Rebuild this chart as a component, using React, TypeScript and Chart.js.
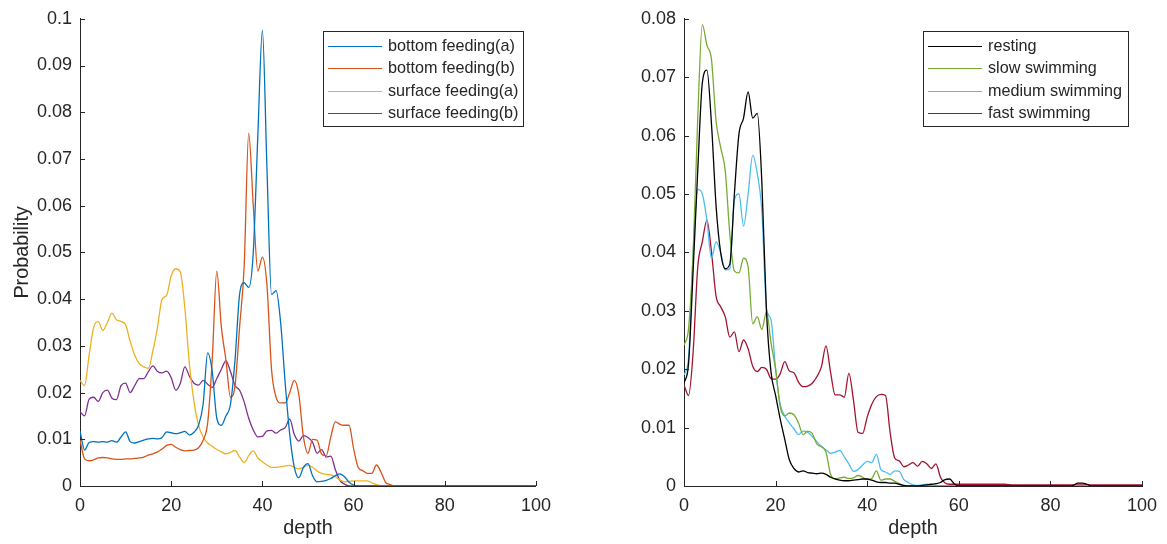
import React, { useEffect, useRef } from 'react';
import { Chart, registerables } from 'chart.js';

Chart.register(...registerables);

// ---------- DATA ----------
const depthLeft = [
  0, 1, 2, 3, 4, 5, 6, 7, 8, 9, 10, 11, 12, 13, 14, 15, 16, 17, 18, 19,
  20, 21, 22, 23, 24, 25, 26, 27, 28, 29, 30, 31, 32, 33, 34, 35, 36, 37, 38, 39,
  40, 41, 42, 43, 44, 45, 46, 47, 48, 49, 50, 51, 52, 53, 54, 55, 56, 57, 58, 59,
  60, 61, 62, 63, 64, 65, 66, 67, 68, 69, 70, 80, 90, 100,
];

const bottomFeedingA = [
  0.0118, 0.0077, 0.0093, 0.0095, 0.0094, 0.0095, 0.0094, 0.0097, 0.0094, 0.0105,
  0.0116, 0.0095, 0.0092, 0.0095, 0.0098, 0.0101, 0.0102, 0.0101, 0.0104, 0.0116,
  0.0114, 0.0112, 0.0114, 0.0117, 0.0109, 0.0115, 0.0130, 0.0175, 0.0285, 0.0245,
  0.0145, 0.0130, 0.0150, 0.0175, 0.0270, 0.0410, 0.0435, 0.0425, 0.0500, 0.0750,
  0.0975, 0.0680, 0.0410, 0.0418, 0.0350, 0.0220, 0.0110, 0.0040, 0.0018, 0.0040,
  0.0048, 0.0022, 0.0009, 0.0010, 0.0012, 0.0016, 0.0022, 0.0026, 0.0020, 0.0008,
  0.0002, 0, 0, 0, 0, 0, 0, 0, 0, 0, 0, 0, 0, 0,
];

const bottomFeedingB = [
  0.0098, 0.0058, 0.0054, 0.0056, 0.0060, 0.0061, 0.0060, 0.0058, 0.0057, 0.0057,
  0.0058, 0.0058, 0.0059, 0.0060, 0.0062, 0.0066, 0.0069, 0.0073, 0.0079, 0.0087,
  0.0089, 0.0083, 0.0078, 0.0075, 0.0076, 0.0077, 0.0082, 0.0098, 0.0135, 0.0270,
  0.0460, 0.0340, 0.0270, 0.0190, 0.0215, 0.0340, 0.0470, 0.0755, 0.0600, 0.0460,
  0.0490, 0.0430, 0.0250, 0.0190, 0.0178, 0.0178, 0.0200, 0.0226, 0.0195, 0.0105,
  0.0070, 0.0100, 0.0098, 0.0068, 0.0065, 0.0105, 0.0138, 0.0132, 0.0130, 0.0130,
  0.0080, 0.0040, 0.0033, 0.0027, 0.0027, 0.0045, 0.0030, 0.0008, 0.0003, 0, 0,
  0, 0, 0,
];

const surfaceFeedingA = [
  0.0226, 0.0215, 0.0280, 0.0340, 0.0352, 0.0333, 0.0350, 0.0370, 0.0356, 0.0352,
  0.0345, 0.0310, 0.0280, 0.0262, 0.0255, 0.0252, 0.0290, 0.0340, 0.0400, 0.0408,
  0.0450, 0.0465, 0.0458, 0.0380, 0.0260, 0.0180, 0.0130, 0.0105, 0.0092, 0.0085,
  0.0078, 0.0073, 0.0069, 0.0072, 0.0076, 0.0062, 0.0050, 0.0065, 0.0075, 0.0060,
  0.0052, 0.0045, 0.0040, 0.0040, 0.0041, 0.0043, 0.0044, 0.0040, 0.0037, 0.0040,
  0.0044, 0.0040, 0.0032, 0.0027, 0.0025, 0.0024, 0.0020, 0.0013, 0.0009, 0.0010,
  0.0011, 0.0011, 0.0011, 0.0011, 0.0007, 0.0003, 0.0001, 0, 0, 0, 0,
  0, 0, 0,
];

const surfaceFeedingB = [
  0.0159, 0.0150, 0.0186, 0.0190, 0.0181, 0.0200, 0.0205, 0.0188, 0.0185, 0.0215,
  0.0220, 0.0200, 0.0215, 0.0230, 0.0230, 0.0245, 0.0257, 0.0245, 0.0242, 0.0246,
  0.0232, 0.0205, 0.0220, 0.0255, 0.0235, 0.0220, 0.0216, 0.0226, 0.0218, 0.0211,
  0.0230, 0.0250, 0.0268, 0.0245, 0.0215, 0.0205, 0.0180, 0.0145, 0.0120, 0.0105,
  0.0106, 0.0118, 0.0119, 0.0113, 0.0120, 0.0125, 0.0143, 0.0110, 0.0096, 0.0108,
  0.0104, 0.0094, 0.0070, 0.0078, 0.0062, 0.0064, 0.0035, 0.0012, 0.0004, 0,
  0, 0, 0, 0, 0, 0, 0, 0, 0, 0, 0,
  0, 0, 0,
];

const depthRight = [
  0, 1, 2, 3, 4, 5, 6, 7, 8, 9, 10, 11, 12, 13, 14, 15, 16, 17, 18, 19,
  20, 21, 22, 23, 24, 25, 26, 27, 28, 29, 30, 31, 32, 33, 34, 35, 36, 37, 38, 39,
  40, 41, 42, 43, 44, 45, 46, 47, 48, 49, 50, 51, 52, 53, 54, 55, 56, 57, 58, 59,
  60, 61, 62, 63, 64, 65, 66, 67, 68, 69, 70,
  72, 75, 80, 84, 85, 86, 87, 88, 89, 90, 95, 100,
];

const resting = [
  0.0176, 0.0210, 0.0370, 0.0540, 0.0690, 0.0712, 0.0620, 0.0480, 0.0400, 0.0372,
  0.0380, 0.0500, 0.0603, 0.0630, 0.0675, 0.0630, 0.0638, 0.0520, 0.0300, 0.0195,
  0.0155, 0.0115, 0.0080, 0.0045, 0.0030, 0.0024, 0.0026, 0.0023, 0.0022, 0.0021,
  0.0022, 0.0020, 0.0015, 0.0012, 0.0010, 0.0009, 0.0009, 0.0010, 0.0011, 0.0012,
  0.0012, 0.0010, 0.0007, 0.0006, 0.0006, 0.0005, 0.0005, 0.0003, 0.0001, 0,
  0, 0, 0.0001, 0.0002, 0.0003, 0.0004, 0.0006, 0.0011, 0.0012, 0.0004,
  0, 0, 0, 0, 0, 0, 0, 0, 0, 0, 0,
  0, 0, 0, 0, 0.0001, 0.0005, 0.0005, 0.0003, 0, 0, 0, 0,
];

const slowSwimming = [
  0.0241, 0.0270, 0.0400, 0.0630, 0.0790, 0.0755, 0.0730, 0.0625, 0.0580, 0.0540,
  0.0432, 0.0368, 0.0365, 0.0390, 0.0375, 0.0278, 0.0290, 0.0268, 0.0298, 0.0245,
  0.0200, 0.0136, 0.0120, 0.0125, 0.0122, 0.0108, 0.0088, 0.0094, 0.0090, 0.0072,
  0.0067, 0.0058, 0.0020, 0.0012, 0.0014, 0.0015, 0.0013, 0.0014, 0.0018, 0.0015,
  0.0011, 0.0013, 0.0026, 0.0010, 0.0012, 0.0012, 0.0008, 0.0004, 0, 0,
  0, 0, 0, 0, 0, 0, 0, 0, 0, 0,
  0, 0, 0, 0, 0, 0, 0, 0, 0, 0, 0,
  0, 0, 0, 0, 0, 0, 0, 0, 0, 0, 0, 0,
];

const mediumSwimming = [
  0.0190, 0.0220, 0.0400, 0.0508, 0.0500, 0.0455, 0.0390, 0.0418, 0.0400, 0.0370,
  0.0372, 0.0490, 0.0500, 0.0445, 0.0500, 0.0566, 0.0535, 0.0470, 0.0305, 0.0285,
  0.0200, 0.0140, 0.0120, 0.0108, 0.0098, 0.0088, 0.0094, 0.0092, 0.0085, 0.0076,
  0.0068, 0.0062, 0.0056, 0.0058, 0.0061, 0.0050, 0.0038, 0.0025, 0.0028, 0.0036,
  0.0042, 0.0040, 0.0054, 0.0028, 0.0024, 0.0020, 0.0026, 0.0025, 0.0011, 0.0006,
  0.0002, 0.0001, 0.0002, 0.0003, 0.0002, 0.0001, 0, 0, 0, 0,
  0, 0, 0, 0, 0, 0, 0, 0, 0, 0, 0,
  0, 0, 0, 0, 0, 0, 0, 0, 0, 0, 0, 0,
];

const fastSwimming = [
  0.0173, 0.0155, 0.0230, 0.0375, 0.0418, 0.0455, 0.0401, 0.0325, 0.0307, 0.0290,
  0.0255, 0.0264, 0.0230, 0.0250, 0.0235, 0.0205, 0.0196, 0.0203, 0.0200, 0.0184,
  0.0183, 0.0192, 0.0213, 0.0197, 0.0194, 0.0178, 0.0170, 0.0171, 0.0176, 0.0187,
  0.0204, 0.0240, 0.0195, 0.0156, 0.0156, 0.0152, 0.0193, 0.0147, 0.0092, 0.0090,
  0.0118, 0.0140, 0.0153, 0.0157, 0.0155, 0.0092, 0.0048, 0.0043, 0.0033, 0.0036,
  0.0040, 0.0034, 0.0042, 0.0038, 0.0030, 0.0038, 0.0015, 0.0005, 0.0003, 0.0003,
  0.0003, 0.0003, 0.0003, 0.0003, 0.0003, 0.0003, 0.0003, 0.0003, 0.0003, 0.0003, 0.0003,
  0.0002, 0.0002, 0.0002, 0.0002, 0.0002, 0.0002, 0.0002, 0.0002, 0.0002, 0.0002, 0.0002, 0.0002,
];

const leftLabels = ['bottom feeding(a)', 'bottom feeding(b)', 'surface feeding(a)', 'surface feeding(b)'];
const rightLabels = ['resting', 'slow swimming', 'medium swimming', 'fast swimming'];
const xTitle = 'depth';
const yTitleLeft = 'Probability';

// ---------- STYLE ----------
const FONT = '"Liberation Sans", Arial, Helvetica, sans-serif';
const AXIS = '#262626';
const LINE_W = 1.3;

const inwardTicks = {
  id: 'inwardTicks',
  afterDraw(chart: any) {
    const { ctx, chartArea, scales } = chart;
    const xs = scales.x;
    const ys = scales.y;
    ctx.save();
    ctx.strokeStyle = AXIS;
    ctx.lineWidth = 1;
    ctx.beginPath();
    xs.ticks.forEach((t: any) => {
      const px = Math.round(xs.getPixelForValue(t.value)) + 0.5;
      ctx.moveTo(px, chartArea.bottom);
      ctx.lineTo(px, chartArea.bottom - 5);
    });
    ys.ticks.forEach((t: any) => {
      const py = Math.round(ys.getPixelForValue(t.value)) + 0.5;
      ctx.moveTo(chartArea.left, py);
      ctx.lineTo(chartArea.left + 5, py);
    });
    ctx.stroke();
    ctx.restore();
  },
};

const boxLegend = {
  id: 'boxLegend',
  afterDraw(chart: any, _args: any, opts: any) {
    const { ctx } = chart;
    const { bx, by, bw, bh, firstRow, rowGap, lineX0, lineX1, textX, fontSize } = opts;
    ctx.save();
    ctx.fillStyle = '#ffffff';
    ctx.fillRect(bx, by, bw, bh);
    ctx.strokeStyle = AXIS;
    ctx.lineWidth = 1;
    ctx.strokeRect(Math.round(bx) + 0.5, Math.round(by) + 0.5, Math.round(bw), Math.round(bh));
    chart.data.datasets.forEach((ds: any, i: number) => {
      const cy = Math.round(by + firstRow + i * rowGap) + 0.5;
      ctx.strokeStyle = ds.borderColor;
      ctx.lineWidth = 1;
      ctx.beginPath();
      ctx.moveTo(bx + lineX0, cy);
      ctx.lineTo(bx + lineX1, cy);
      ctx.stroke();
      ctx.fillStyle = AXIS;
      ctx.font = `${fontSize}px ${FONT}`;
      ctx.textBaseline = 'middle';
      ctx.textAlign = 'left';
      ctx.fillText(ds.label, bx + textX, cy);
    });
    ctx.restore();
  },
};

function makeDatasets(depth: number[], series: number[][], labels: string[], colors: string[]) {
  return series.map((s, i) => ({
    label: labels[i],
    data: depth.map((d, j) => ({ x: d, y: s[j] })),
    borderColor: colors[i],
    backgroundColor: colors[i],
    borderWidth: LINE_W,
    pointRadius: 0,
    fill: false,
    cubicInterpolationMode: 'monotone' as const,
  }));
}

function makeOptions(yMax: number, yWidth: number, yTitle: string | null, padding: any, legend: any) {
  return {
    responsive: false,
    animation: false as const,
    devicePixelRatio: 1,
    layout: { padding },
    plugins: {
      legend: { display: false },
      tooltip: { enabled: false },
      boxLegend: legend,
    },
    scales: {
      x: {
        type: 'linear' as const,
        min: 0,
        max: 100,
        afterFit: (s: any) => { s.height = 58; },
        ticks: {
          stepSize: 20,
          padding: 9,
          maxRotation: 0,
          autoSkip: false,
          color: AXIS,
          font: { family: FONT, size: 18 },
        },
        grid: { display: false, drawTicks: false },
        border: { display: true, color: AXIS, width: 1 },
        title: {
          display: true,
          text: xTitle,
          color: AXIS,
          font: { family: FONT, size: 19.8 },
          padding: { top: 0, bottom: 4 },
        },
      },
      y: {
        type: 'linear' as const,
        min: 0,
        max: yMax,
        afterFit: (s: any) => { s.width = yWidth; },
        ticks: {
          stepSize: 0.01,
          padding: 8,
          color: AXIS,
          font: { family: FONT, size: 18 },
          callback: (v: any) => String(Math.round(Number(v) * 100) / 100),
        },
        grid: { display: false, drawTicks: false },
        border: { display: true, color: AXIS, width: 1 },
        title: yTitle
          ? {
              display: true,
              text: yTitle,
              color: AXIS,
              font: { family: FONT, size: 19.8 },
              padding: { top: 11, bottom: 0 },
            }
          : { display: false },
      },
    },
  };
}

export default function App() {
  const leftRef = useRef<HTMLCanvasElement | null>(null);
  const rightRef = useRef<HTMLCanvasElement | null>(null);

  useEffect(() => {
    const left = new Chart(leftRef.current as HTMLCanvasElement, {
      type: 'line',
      data: {
        datasets: makeDatasets(
          depthLeft,
          [bottomFeedingA, bottomFeedingB, surfaceFeedingA, surfaceFeedingB],
          leftLabels,
          ['#0072BD', '#D95319', '#EDB120', '#7E2F8E'],
        ),
      },
      options: makeOptions(0.1, 80, yTitleLeft, { left: 0, right: 20, top: 18, bottom: 0 }, {
        bx: 323, by: 31, bw: 200, bh: 95, firstRow: 14.7, rowGap: 22.5,
        lineX0: 5, lineX1: 59, textX: 65, fontSize: 16.2,
      }) as any,
      plugins: [inwardTicks, boxLegend],
    });
    const right = new Chart(rightRef.current as HTMLCanvasElement, {
      type: 'line',
      data: {
        datasets: makeDatasets(
          depthRight,
          [resting, slowSwimming, mediumSwimming, fastSwimming],
          rightLabels,
          ['#000000', '#77AC30', '#4DBEEE', '#A2142F'],
        ),
      },
      options: makeOptions(0.08, 100, null, { left: 0, right: 25, top: 18, bottom: 0 }, {
        bx: 339, by: 31, bw: 205, bh: 95, firstRow: 14.7, rowGap: 22.5,
        lineX0: 5, lineX1: 59, textX: 65, fontSize: 16.2,
      }) as any,
      plugins: [inwardTicks, boxLegend],
    });
    return () => {
      left.destroy();
      right.destroy();
    };
  }, []);

  return (
    <div>
      <canvas
        ref={leftRef}
        width={560}
        height={544}
        style={{ position: 'absolute', left: 0, top: 0, width: 560, height: 544 }}
      />
      <canvas
        ref={rightRef}
        width={583}
        height={544}
        style={{ position: 'absolute', left: 584, top: 0, width: 583, height: 544 }}
      />
    </div>
  );
}
